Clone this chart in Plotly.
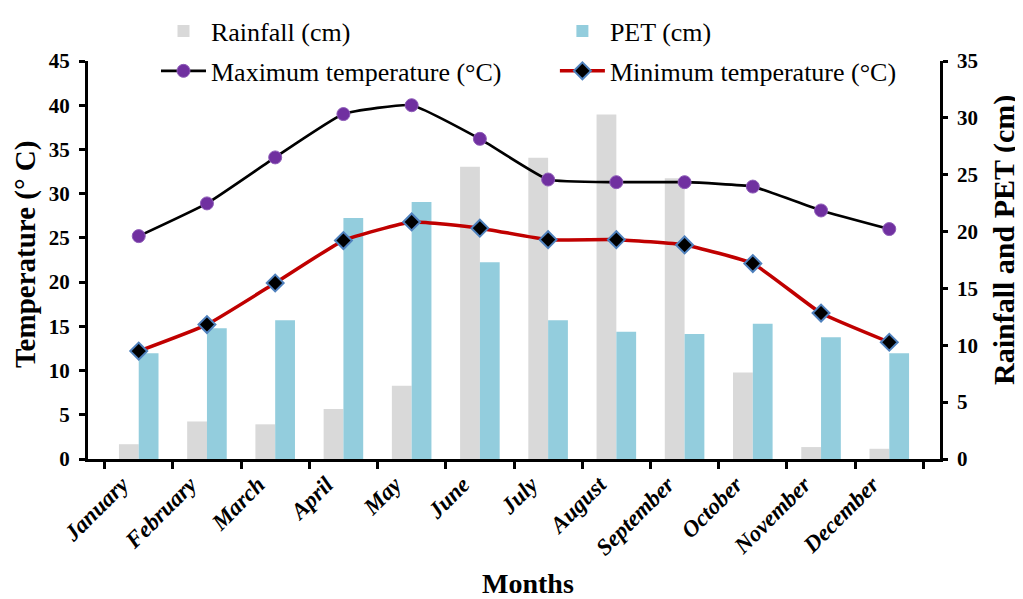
import plotly.graph_objects as go

months = ["January", "February", "March", "April", "May", "June", "July",
          "August", "September", "October", "November", "December"]
rainfall = [1.3, 3.3, 3.05, 4.4, 6.45, 25.7, 26.5, 30.3, 24.7, 7.6, 1.05, 0.9]
pet = [9.3, 11.5, 12.2, 21.2, 22.6, 17.3, 12.2, 11.2, 11.0, 11.9, 10.7, 9.3]
tmax = [25.2, 28.9, 34.1, 39.0, 40.0, 36.2, 31.6, 31.3, 31.3, 30.8, 28.1, 26.0]
tmin = [12.2, 15.2, 19.9, 24.7, 26.8, 26.1, 24.8, 24.8, 24.2, 22.1, 16.5, 13.2]

FONT = "Liberation Serif"

fig = go.Figure()
fig.add_trace(go.Bar(x=months, y=rainfall, name="Rainfall (cm)", legend="legend",
                     marker=dict(color="#D9D9D9", line=dict(width=0)), yaxis="y"))
fig.add_trace(go.Bar(x=months, y=pet, name="PET (cm)", legend="legend2",
                     marker=dict(color="#93CDDD", line=dict(width=0)), yaxis="y"))
fig.add_trace(go.Scatter(x=months, y=tmax, name="Maximum temperature (°C)", yaxis="y2",
                         legend="legend3", mode="lines+markers",
                         line=dict(color="black", width=2.7, shape="spline", smoothing=0.4),
                         marker=dict(symbol="circle", size=13, color="#7030A0",
                                     line=dict(color="#8E5CB8", width=1))))
fig.add_trace(go.Scatter(x=months, y=tmin, name="Minimum temperature (°C)", yaxis="y2",
                         legend="legend4", mode="lines+markers",
                         line=dict(color="#C00000", width=3.5, shape="spline", smoothing=0.4),
                         marker=dict(symbol="diamond", size=13, color="black",
                                     line=dict(color="#4F81BD", width=2))))

lc = dict(orientation="h", xanchor="left", yanchor="middle",
          font=dict(family=FONT, size=26, color="black"),
          bgcolor="rgba(0,0,0,0)", itemwidth=45)

# page body has an 8px margin: figure is offset by 8px, so size/margins compensate
fig.update_layout(
    width=1015, height=591,
    margin=dict(l=80, r=83, t=53, b=140, autoexpand=False),
    paper_bgcolor="white", plot_bgcolor="white",
    font=dict(family=FONT, color="black"),
    barmode="group", bargap=0.42, bargroupgap=0,
    showlegend=True,
    legend=dict(x=0.0798, y=1.0754, **lc),
    legend2=dict(x=0.548, y=1.0754, **lc),
    legend3=dict(x=0.0798, y=0.975, **lc),
    legend4=dict(x=0.548, y=0.975, **lc),
    xaxis=dict(showline=True, linecolor="black", linewidth=3,
               ticks="outside", tickson="boundaries", ticklen=7, tickwidth=2.5,
               tickcolor="black", tickangle=-45, ticklabelshift=-17,
               tickfont=dict(family=FONT, size=23, weight="bold", style="italic"),
               showgrid=False, zeroline=False),
    yaxis=dict(side="right", range=[0, 35], dtick=5, showline=True, linecolor="black",
               linewidth=2.5, ticks="outside", ticklen=5, tickwidth=2.5, tickcolor="black",
               ticklabelstandoff=5,
               tickfont=dict(family=FONT, size=21, weight="bold"),
               showgrid=False, zeroline=False),
    yaxis2=dict(side="left", overlaying="y", range=[0, 45], dtick=5, showline=True,
                linecolor="black", linewidth=3, ticks="outside", ticklen=6, tickwidth=2.5,
                ticklabelstandoff=5,
                tickcolor="black", tickfont=dict(family=FONT, size=21, weight="bold"),
                showgrid=False, zeroline=False),
    annotations=[
        dict(text="Months", xref="paper", yref="paper", x=0.516, y=-0.312,
             xanchor="center", yanchor="middle", showarrow=False,
             font=dict(family=FONT, size=28, weight="bold")),
        dict(text="Temperature (° C)", xref="paper", yref="paper", x=-0.0725, y=0.513,
             xanchor="center", yanchor="middle", textangle=-90, showarrow=False,
             font=dict(family=FONT, size=29, weight="bold")),
        dict(text="Rainfall and PET (cm)", xref="paper", yref="paper", x=1.075, y=0.55,
             xanchor="center", yanchor="middle", textangle=-90, showarrow=False,
             font=dict(family=FONT, size=30, weight="bold")),
    ],
)

fig.write_html("out.html")
